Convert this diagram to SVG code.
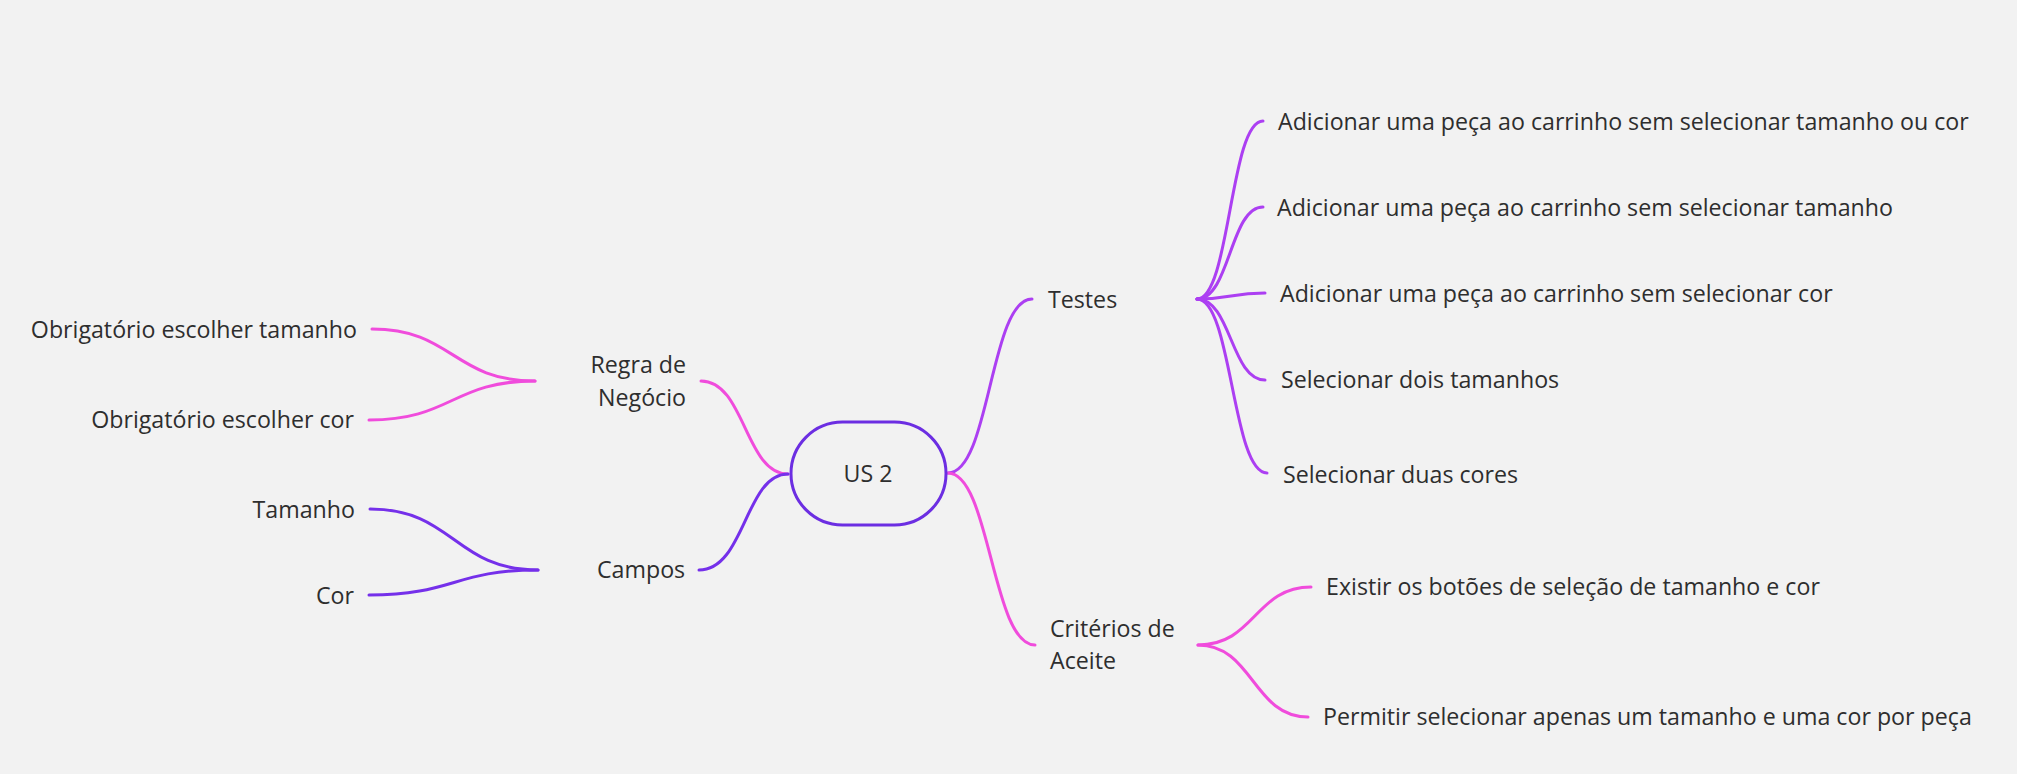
<svg xmlns="http://www.w3.org/2000/svg" width="2017" height="774" viewBox="0 0 2017 774">
<style>
text{font-family:"Open Sans","Noto Sans","Liberation Sans",sans-serif;font-size:23.2px;fill:#2e2e2e}
.e{text-anchor:end}
.m{text-anchor:middle}
.c{fill:none;stroke-width:3;stroke-linecap:round}
.pink{stroke:#f04cdc}
.purp{stroke:#7530ea}
.viol{stroke:#ac3ff2}
</style>
<rect width="2017" height="774" fill="#f2f2f2"/>
<g id="connectors">
<path class="c pink" d="M788,474 C745,474 745,381 701,381"/>
<path class="c purp" d="M788,474 C745,474 745,570 699,570"/>
<path class="c viol" d="M948,473 C990,473 990,299 1032,299"/>
<path class="c pink" d="M948,473 C990,473 992,645 1035,645"/>
<path class="c pink" d="M535,381 C453,381 453,329 372,329"/>
<path class="c pink" d="M535,381 C452,381 452,420 369,420"/>
<path class="c purp" d="M538,570 C454,570 454,509 370,509"/>
<path class="c purp" d="M538,570 C454,570 454,595 369,595"/>
<path class="c viol" d="M1197,299 C1230,299 1230,121 1263,121"/>
<path class="c viol" d="M1197,299 C1230,299 1230,207 1263,207"/>
<path class="c viol" d="M1197,299 C1231,299 1231,293 1265,293"/>
<path class="c viol" d="M1197,299 C1231,299 1231,380 1265,380"/>
<path class="c viol" d="M1197,299 C1232,299 1232,473 1267,473"/>
<path class="c pink" d="M1198,645 C1255,645 1255,587 1311,587"/>
<path class="c pink" d="M1198,645 C1253,645 1253,717 1308,717"/>
</g>
<g id="root">
<rect x="791" y="422" width="155" height="103" rx="51.5" fill="none" stroke="#6c2ee2" stroke-width="3"/>
<text class="m" x="868" y="482">US 2</text>
</g>
<g id="regra"><text class="e" x="686" y="373">Regra de</text><text class="e" x="686" y="406">Negócio</text></g>
<g id="campos"><text x="597" y="578">Campos</text></g>
<g id="testes"><text x="1048" y="308">Testes</text></g>
<g id="criterios"><text x="1050" y="637">Critérios de</text><text x="1050" y="669">Aceite</text></g>
<g id="obr-tam"><text class="e" x="357" y="338">Obrigatório escolher tamanho</text></g>
<g id="obr-cor"><text class="e" x="354" y="428">Obrigatório escolher cor</text></g>
<g id="tamanho"><text class="e" x="355" y="518">Tamanho</text></g>
<g id="cor"><text class="e" x="354" y="604">Cor</text></g>
<g id="t1"><text x="1278" y="130">Adicionar uma peça ao carrinho sem selecionar tamanho ou cor</text></g>
<g id="t2"><text x="1277" y="216">Adicionar uma peça ao carrinho sem selecionar tamanho</text></g>
<g id="t3"><text x="1280" y="302">Adicionar uma peça ao carrinho sem selecionar cor</text></g>
<g id="t4"><text x="1281" y="388">Selecionar dois tamanhos</text></g>
<g id="t5"><text x="1283" y="483">Selecionar duas cores</text></g>
<g id="c1"><text x="1326" y="595">Existir os botões de seleção de tamanho e cor</text></g>
<g id="c2"><text x="1323" y="725">Permitir selecionar apenas um tamanho e uma cor por peça</text></g>
</svg>
